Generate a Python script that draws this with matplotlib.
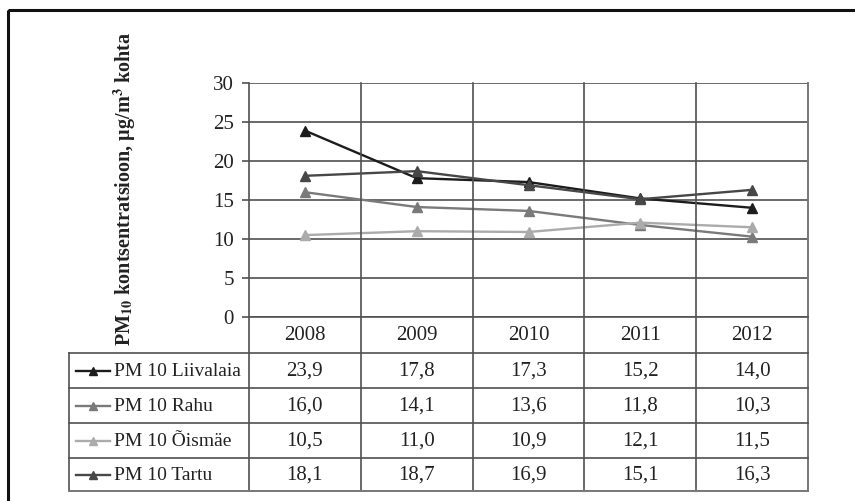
import matplotlib
matplotlib.use("Agg")
import matplotlib.pyplot as plt
from matplotlib.lines import Line2D
from matplotlib.patches import Rectangle

plt.rcParams['font.family'] = ['Liberation Serif', 'DejaVu Serif']
plt.rcParams['mathtext.fontset'] = 'stix'

years = ["2008", "2009", "2010", "2011", "2012"]
series_names = ["PM 10 Liivalaia", "PM 10 Rahu", "PM 10 Õismäe", "PM 10 Tartu"]
liivalaia = [23.9, 17.8, 17.3, 15.2, 14.0]
rahu = [16.0, 14.1, 13.6, 11.8, 10.3]
oismae = [10.5, 11.0, 10.9, 12.1, 11.5]
tartu = [18.1, 18.7, 16.9, 15.1, 16.3]
series = [liivalaia, rahu, oismae, tartu]
colors = ["#1c1c1c", "#7a7a7a", "#ababab", "#474747"]
y_ticks = [0, 5, 10, 15, 20, 25, 30]

W, H = 855, 501
fig = plt.figure(figsize=(W / 100, H / 100), dpi=100)
fig.patch.set_facecolor("white")

# plot area geometry (pixels)
px_left, px_right = 249, 808
py_top, py_zero = 83, 317
tbl_left, tbl_bottom = 69, 491
row_edges = [317, 353, 388, 423, 458, 491]
grid_col = "#505050"
grid_lw = 1.2
text_col = "#222222"


def fx(x):
    return x / W


def fy(y):
    return 1 - y / H


ax = fig.add_axes([fx(px_left), fy(py_zero), fx(px_right - px_left), (py_zero - py_top) / H])
ax.set_xlim(-0.5, len(years) - 0.5)
ax.set_ylim(0, 30)
for s in ax.spines.values():
    s.set_visible(False)
ax.set_yticks(y_ticks)
ax.set_yticklabels([str(t) for t in y_ticks], fontsize=15, color=text_col)
ax.tick_params(axis="y", length=5, width=grid_lw, color=grid_col, pad=6)
ax.set_xticks([])
for t in y_ticks:
    ax.axhline(t, color=grid_col, lw=grid_lw, zorder=1)

xs = list(range(len(years)))
for vals, c in zip(series, colors):
    ax.plot(xs, vals, color=c, lw=1.7, marker="^", ms=7, zorder=3)

# overlay in pixel coordinates for table and frame
ov = fig.add_axes([0, 0, 1, 1], facecolor="none")
ov.set_xlim(0, W)
ov.set_ylim(H, 0)
ov.axis("off")

col_w = (px_right - px_left) / len(years)
col_edges = [px_left + i * col_w for i in range(len(years) + 1)]

# vertical lines: y-axis and category separators
ov.plot([px_left, px_left], [py_top, tbl_bottom], color=grid_col, lw=grid_lw)
for xe in col_edges[1:-1]:
    ov.plot([xe, xe], [py_top, tbl_bottom], color=grid_col, lw=grid_lw)
ov.plot([px_right, px_right], [py_top, tbl_bottom], color="#777777", lw=1.4)
ov.plot([tbl_left, tbl_left], [row_edges[1], tbl_bottom], color=grid_col, lw=grid_lw)
# horizontal table lines
ov.plot([px_left, px_right], [row_edges[0], row_edges[0]], color=grid_col, lw=grid_lw)
for ye in row_edges[1:-1]:
    ov.plot([tbl_left, px_right], [ye, ye], color=grid_col, lw=grid_lw)
ov.plot([tbl_left, px_right], [tbl_bottom, tbl_bottom], color="#777777", lw=1.4)

# header row with years
for i, yr in enumerate(years):
    xc = (col_edges[i] + col_edges[i + 1]) / 2
    ov.text(xc, (row_edges[0] + row_edges[1]) / 2 + 1, yr, ha="center", va="center",
            fontsize=15, color=text_col)

# series rows
for r, (name, vals, c) in enumerate(zip(series_names, series, colors)):
    yc = (row_edges[r + 1] + row_edges[r + 2]) / 2
    ov.add_line(Line2D([76, 93, 110], [yc, yc, yc], color=c, lw=1.7, marker="^",
                       markevery=[1], ms=6))
    ov.text(114, yc + 1, name, ha="left", va="center", fontsize=14, color=text_col)
    for i, v in enumerate(vals):
        xc = (col_edges[i] + col_edges[i + 1]) / 2
        ov.text(xc, yc + 1, f"{v:.1f}".replace(".", ","), ha="center", va="center",
                fontsize=15, color=text_col)

# y-axis title
ov.text(125, 189, r"PM$_{\mathbf{10}}$ kontsentratsioon, µg/m$^{\mathbf{3}}$ kohta",
        rotation=90, ha="center", va="center", fontsize=14.5, fontweight="bold",
        color=text_col)

# outer frame
ov.add_patch(Rectangle((8, 10), 880, 520, fill=False, edgecolor="#111111", lw=2.2,
                       clip_on=True))

fig.savefig("out.png", dpi=100, facecolor="white")
